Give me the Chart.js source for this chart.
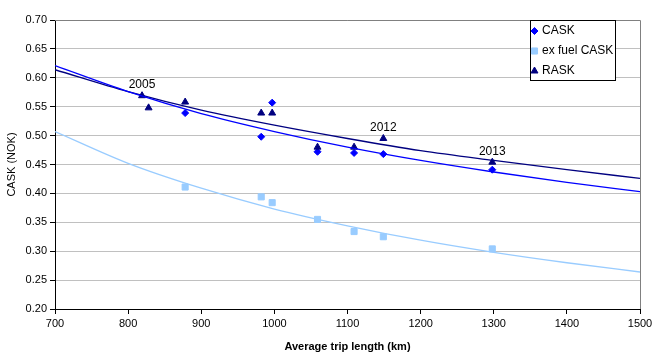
<!DOCTYPE html>
<html>
<head>
<meta charset="utf-8">
<script src="https://cdn.jsdelivr.net/npm/chart.js@4.4.1/dist/chart.umd.min.js"></script>
<style>
  html, body { margin: 0; padding: 0; background: #fff; }
  #wrap { width: 656px; height: 361px; }
</style>
</head>
<body>
<div id="wrap"><canvas id="chart"></canvas></div>
<script>
// points (km, NOK)
const caskKm   = [878, 982, 997, 1059, 1109, 1149, 1298];
const caskVal  = [0.539, 0.498, 0.557, 0.472, 0.470, 0.468, 0.441];
const exKm     = [878, 982, 997, 1059, 1109, 1149, 1298];
const exVal    = [0.411, 0.394, 0.384, 0.355, 0.334, 0.325, 0.304];
const raskKm   = [819, 828, 878, 982, 997, 1059, 1109, 1149, 1298];
const raskVal  = [0.569, 0.548, 0.558, 0.539, 0.539, 0.480, 0.480, 0.495, 0.454];

// trendlines, read at every 100 km
const trendKm    = [700, 800, 900, 1000, 1100, 1200, 1300, 1400, 1500];
const caskTrend  = [0.621, 0.576, 0.538, 0.507, 0.480, 0.457, 0.437, 0.419, 0.403];
const exTrend    = [0.507, 0.452, 0.409, 0.373, 0.344, 0.319, 0.298, 0.280, 0.264];
const raskTrend  = [0.614, 0.576, 0.544, 0.518, 0.495, 0.474, 0.457, 0.441, 0.426];

// year labels next to RASK points
const yearLabels = [
  { text: '2005', km: 819,  val: 0.569 },
  { text: '2012', km: 1149, val: 0.495 },
  { text: '2013', km: 1298, val: 0.454 }
];

const xTicks = [700, 800, 900, 1000, 1100, 1200, 1300, 1400, 1500];
const yTicks = [0.20, 0.25, 0.30, 0.35, 0.40, 0.45, 0.50, 0.55, 0.60, 0.65, 0.70];

const FONT = '"Liberation Sans", Arial, sans-serif';
Chart.defaults.font.family = FONT;
Chart.defaults.color = '#000';

const toXY = (xs, ys) => xs.map((x, i) => ({ x: x, y: ys[i] }));

const legendItems = [
  { label: 'CASK', style: 'rectRot', color: '#0000FF', r: 3.5 },
  { label: 'ex fuel CASK', style: 'rect', color: '#99CCFF', r: 4.3 },
  { label: 'RASK', style: 'triangle', color: '#000080', r: 4 }
];

const extras = {
  id: 'extras',
  afterDraw(chart) {
    const ctx = chart.ctx;
    const a = chart.chartArea;
    const xs = chart.scales.x, ys = chart.scales.y;
    ctx.save();
    // gray frame on top and right
    ctx.strokeStyle = '#808080';
    ctx.lineWidth = 1;
    ctx.beginPath();
    ctx.moveTo(a.left, a.top + 0.5);
    ctx.lineTo(a.right + 0.5, a.top + 0.5);
    ctx.lineTo(a.right + 0.5, a.bottom);
    ctx.stroke();

    // year labels
    ctx.fillStyle = '#000';
    ctx.font = '12px ' + FONT;
    ctx.textAlign = 'center';
    ctx.textBaseline = 'bottom';
    yearLabels.forEach(l => {
      ctx.fillText(l.text, xs.getPixelForValue(l.km), ys.getPixelForValue(l.val) - 5);
    });

    // legend box
    const bx = 530.5, by = 20.5, bw = 85, bh = 60;
    ctx.fillStyle = '#fff';
    ctx.fillRect(bx, by, bw, bh);
    ctx.strokeStyle = '#000';
    ctx.strokeRect(bx, by, bw, bh);
    ctx.textAlign = 'left';
    ctx.textBaseline = 'middle';
    legendItems.forEach((it, i) => {
      const cy = 31 + i * 20;
      ctx.fillStyle = it.color;
      ctx.strokeStyle = it.color;
      Chart.helpers.drawPoint(ctx, { pointStyle: it.style, radius: it.r, borderWidth: 1 }, 534.5, cy);
      ctx.fillStyle = '#000';
      ctx.fillText(it.label, 542, cy);
    });
    ctx.restore();
  }
};

const trend = (data, color) => ({
  data: data, showLine: true, borderColor: color, borderWidth: 1.3,
  pointRadius: 0, fill: false, cubicInterpolationMode: 'monotone'
});
const pts = (data, color, style, r) => ({
  data: data, showLine: false, pointStyle: style, pointRadius: r, pointHoverRadius: r,
  backgroundColor: color, borderColor: color, borderWidth: 1
});

new Chart(document.getElementById('chart'), {
  type: 'scatter',
  data: {
    datasets: [
      trend(toXY(trendKm, caskTrend), '#0000FF'),
      trend(toXY(trendKm, exTrend), '#99CCFF'),
      trend(toXY(trendKm, raskTrend), '#000080'),
      pts(toXY(raskKm, raskVal), '#000080', 'triangle', 4),
      pts(toXY(caskKm, caskVal), '#0000FF', 'rectRot', 3.5),
      pts(toXY(exKm, exVal), '#99CCFF', 'rect', 4.3)
    ]
  },
  options: {
    responsive: true,
    maintainAspectRatio: false,
    animation: false,
    layout: { padding: { left: 0, top: 20, right: 16, bottom: 0 } },
    plugins: { legend: { display: false }, tooltip: { enabled: false } },
    scales: {
      x: {
        type: 'linear', min: 700, max: 1500,
        afterBuildTicks: s => { s.ticks = xTicks.map(v => ({ value: v })); },
        afterFit: s => { s.height = 52; },
        grid: { color: 'transparent', tickColor: '#000', tickLength: 5, drawOnChartArea: false },
        border: { color: '#000' },
        ticks: { font: { size: 11 }, color: '#000', padding: 3, maxRotation: 0, callback: v => String(v) },
        title: { display: true, text: 'Average trip length (km)', font: { size: 11, weight: 'bold' }, padding: { top: 4, bottom: 7 } }
      },
      y: {
        type: 'linear', min: 0.2, max: 0.7,
        afterBuildTicks: s => { s.ticks = yTicks.map(v => ({ value: v })); },
        afterFit: s => { s.width = 55; },
        grid: { color: '#C0C0C0', tickColor: '#000', tickLength: 5 },
        border: { color: '#000' },
        ticks: { font: { size: 11 }, color: '#000', padding: 3, callback: v => v.toFixed(2) },
        title: { display: true, text: 'CASK (NOK)', font: { size: 11 }, padding: { top: 5, bottom: 0 } }
      }
    }
  },
  plugins: [extras]
});
</script>
</body>
</html>
